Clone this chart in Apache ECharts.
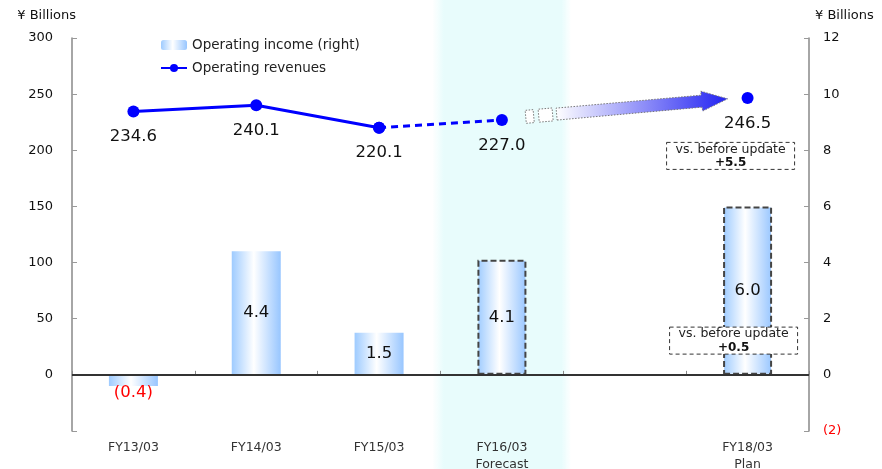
<!DOCTYPE html>
<html>
<head>
<meta charset="utf-8">
<script src="https://cdn.jsdelivr.net/npm/echarts@6/dist/echarts.min.js"></script>
<style>
  html, body { margin: 0; padding: 0; background: #fff; }
  #chart { width: 882px; height: 469px; }
</style>
</head>
<body>
<div id="chart"></div>
<script>
// Fiscal years on the category axis (the blank slot keeps FY17/03 empty)
const categories = ['FY13/03', 'FY14/03', 'FY15/03', 'FY16/03', '', 'FY18/03'];
const categoryNotes = ['', '', '', 'Forecast', '', 'Plan'];

// Operating revenues (¥ billions, left axis)
const operatingRevenues = [234.6, 240.1, 220.1, 227.0, null, 246.5];
// Operating income (¥ billions, right axis)
const operatingIncome = [-0.4, 4.4, 1.5, 4.1, null, 6.0];

// Axis ranges
const revenueAxis = { min: -50, max: 300, interval: 50 };
const incomeAxis = { min: -2, max: 12, interval: 2 };

// Revision notes shown beside the plan year
const revisionNotes = [
  { title: 'vs. before update', delta: '+5.5' },
  { title: 'vs. before update', delta: '+0.5' }
];

const FONT = '"DejaVu Sans", "Liberation Sans", sans-serif';
const TEXT = '#111';
const ACTUAL_END = 2, FORECAST_END = 3, PLAN = 5;

const barGradient = new echarts.graphic.LinearGradient(0, 0, 1, 0, [
  { offset: 0, color: '#9ECBFF' },
  { offset: 0.45, color: '#FFFFFF' },
  { offset: 1, color: '#98C6FF' }
]);

const fmtIncome = v => (v < 0 ? '(' + Math.abs(v).toFixed(1) + ')' : v.toFixed(1));

const incomeData = operatingIncome.map((v, i) => {
  if (v === null) return null;
  const item = { value: v };
  if (i >= FORECAST_END) {
    item.itemStyle = { borderColor: '#444', borderWidth: 2, borderType: [6, 3] };
  }
  if (v < 0) {
    item.label = { position: 'bottom', distance: 0, offset: [0, -2], color: '#FF0000' };
  }
  return item;
});

const pick = (arr, from, to) => arr.map((v, i) => (i >= from && i <= to ? v : null));

const lineLabel = {
  show: true, position: 'bottom', distance: 11,
  fontFamily: FONT, fontSize: 16.5, color: TEXT
};
const lineCommon = {
  type: 'line', yAxisIndex: 0, symbol: 'circle', symbolSize: 12,
  showSymbol: true, showAllSymbol: true, connectNulls: false,
  itemStyle: { color: '#0000FF' }, z: 4
};

const option = {
  animation: false,
  textStyle: { fontFamily: FONT },
  grid: { left: 72, right: 73, top: 38, bottom: 38, outerBoundsMode: 'none', containLabel: false },
  legend: {
    orient: 'vertical', left: 155, top: 33, itemGap: 9,
    itemWidth: 26, itemHeight: 10,
    textStyle: { fontFamily: FONT, fontSize: 13.5, color: '#222' },
    data: ['Operating income (right)', 'Operating revenues'],
    selectedMode: false
  },
  xAxis: {
    type: 'category', data: categories, boundaryGap: true,
    axisLine: { lineStyle: { color: '#999', width: 1.5 } },
    axisTick: { show: true, inside: true, length: 4, interval: 0, lineStyle: { color: '#888' } },
    axisLabel: {
      interval: 0, margin: 8, fontFamily: FONT, fontSize: 12.5, color: '#333', lineHeight: 17,
      formatter: (v, i) => (categoryNotes[i] ? v + '\n' + categoryNotes[i] : v)
    },
    splitLine: { show: false }
  },
  yAxis: [
    {
      type: 'value', position: 'left',
      min: revenueAxis.min, max: revenueAxis.max, interval: revenueAxis.interval,
      name: '¥ Billions', nameLocation: 'end', nameGap: 16,
      nameTextStyle: { fontFamily: FONT, fontSize: 13, color: TEXT, align: 'right', padding: [0, -4, 0, 0] },
      axisLine: { show: true, lineStyle: { color: '#888', width: 1.5 } },
      axisTick: { show: true, inside: true, length: 5, lineStyle: { color: '#999' } },
      axisLabel: { margin: 19, fontFamily: FONT, fontSize: 13, color: TEXT, formatter: v => (v < 0 ? '' : v) },
      splitLine: { show: false }
    },
    {
      type: 'value', position: 'right',
      min: incomeAxis.min, max: incomeAxis.max, interval: incomeAxis.interval,
      name: '¥ Billions', nameLocation: 'end', nameGap: 16,
      nameTextStyle: { fontFamily: FONT, fontSize: 13, color: TEXT, align: 'left', padding: [0, 0, 0, 6] },
      axisLine: { show: true, lineStyle: { color: '#888', width: 1.5 } },
      axisTick: { show: true, inside: true, length: 5, lineStyle: { color: '#999' } },
      axisLabel: {
        margin: 14, fontFamily: FONT, fontSize: 13, color: TEXT,
        formatter: v => (v < 0 ? '{neg|(' + Math.abs(v) + ')}' : String(v)),
        rich: { neg: { color: '#FF0000', fontFamily: FONT, fontSize: 13 } }
      },
      splitLine: { show: false }
    }
  ],
  series: [
    {
      name: 'Operating income (right)', type: 'bar', yAxisIndex: 1,
      barWidth: 49, data: incomeData,
      itemStyle: { color: barGradient },
      label: {
        show: true, position: 'inside', fontFamily: FONT, fontSize: 16.5, color: TEXT,
        formatter: p => fmtIncome(p.value)
      },
      markLine: {
        silent: true, symbol: ['none', 'none'], label: { show: false },
        lineStyle: { color: '#333', width: 2, type: 'solid' },
        data: [{ yAxis: 0 }]
      },
      z: 2
    },
    Object.assign({}, lineCommon, {
      name: 'Operating revenues',
      data: pick(operatingRevenues, 0, ACTUAL_END),
      lineStyle: { color: '#0000FF', width: 3 },
      label: lineLabel
    }),
    Object.assign({}, lineCommon, {
      name: 'Operating revenues forecast',
      data: pick(operatingRevenues, ACTUAL_END, FORECAST_END),
      lineStyle: { color: '#0000FF', width: 3, type: [7, 5] },
      label: Object.assign({}, lineLabel, {
        formatter: p => (p.dataIndex === FORECAST_END ? p.value.toFixed(1) : '')
      })
    }),
    Object.assign({}, lineCommon, {
      name: 'Operating revenues plan',
      data: pick(operatingRevenues, PLAN, PLAN),
      lineStyle: { width: 0 },
      label: lineLabel
    })
  ]
};

const chart = echarts.init(document.getElementById('chart'), null, { renderer: 'canvas' });
chart.setOption(option);

// Decorations placed from the axes' own scales
const toLeft = (i, v) => chart.convertToPixel({ seriesIndex: 1 }, [i, v]);
const toRight = (i, v) => chart.convertToPixel({ seriesIndex: 0 }, [i, v]);

const catW = toLeft(1, 0)[0] - toLeft(0, 0)[0];
const forecastX = toLeft(FORECAST_END, 0)[0];
const bandW = catW * 1.13;

// Arrow from the forecast year toward the plan year
const p1 = toLeft(FORECAST_END, operatingRevenues[FORECAST_END]);
const p2 = toLeft(PLAN, operatingRevenues[PLAN]);
const dx = p2[0] - p1[0], dy = p2[1] - p1[1];
const len = Math.hypot(dx, dy);
const ux = dx / len, uy = dy / len;
const nx = uy, ny = -ux;
const at = (s, t) => [p1[0] + s * ux + t * nx, p1[1] + s * uy + t * ny];
const lift = 1;
const seg = (s0, s1, h) => [at(s0, lift - h), at(s1, lift - h), at(s1, lift + h), at(s0, lift + h)];
const tipS = len - 20;
const arrowPts = [
  at(55, lift - 6), at(tipS - 26, lift - 6), at(tipS - 26, lift - 10),
  at(tipS, lift), at(tipS - 26, lift + 10), at(tipS - 26, lift + 6), at(55, lift + 6)
];
const dotted = { stroke: '#777', lineWidth: 1, lineDash: [1.5, 1.5] };

const noteBox = (cx, cy, note) => [
  {
    type: 'rect', z: 20, silent: true,
    shape: { x: cx - 64, y: cy - 13.5, width: 128, height: 27 },
    style: { fill: '#fff', stroke: '#333', lineWidth: 1, lineDash: [4, 3] }
  },
  {
    type: 'text', z: 21, silent: true, x: cx, y: cy - 6.5,
    style: { text: note.title, fontFamily: FONT, fontSize: 12.5, fill: '#222', align: 'center', verticalAlign: 'middle' }
  },
  {
    type: 'text', z: 21, silent: true, x: cx, y: cy + 7,
    style: { text: note.delta, fontFamily: FONT, fontSize: 12, fontWeight: 'bold', fill: '#111', align: 'center', verticalAlign: 'middle' }
  }
];

const planX = toRight(PLAN, 0)[0];

chart.setOption({
  graphic: [
    {
      type: 'rect', z: -10, silent: true,
      shape: { x: forecastX - bandW / 2, y: 0, width: bandW, height: chart.getHeight() },
      style: {
        fill: new echarts.graphic.LinearGradient(0, 0, 1, 0, [
          { offset: 0, color: 'rgba(232,252,252,0)' },
          { offset: 0.08, color: '#E8FCFC' },
          { offset: 0.93, color: '#E8FCFC' },
          { offset: 1, color: 'rgba(232,252,252,0)' }
        ])
      }
    },
    { type: 'polygon', z: 10, silent: true, shape: { points: seg(24, 32, 6.5) }, style: Object.assign({ fill: '#fff' }, dotted) },
    { type: 'polygon', z: 10, silent: true, shape: { points: seg(37, 51, 6.5) }, style: Object.assign({ fill: '#fff' }, dotted) },
    {
      type: 'polygon', z: 10, silent: true, shape: { points: arrowPts },
      style: Object.assign({
        fill: new echarts.graphic.LinearGradient(0, 0, 1, 0, [
          { offset: 0, color: '#FFFFFF' },
          { offset: 1, color: '#2222F2' }
        ])
      }, dotted)
    }
  ]
    .concat(noteBox(planX - 17, toRight(PLAN, 7.8)[1], revisionNotes[0]))
    .concat(noteBox(planX - 14, toRight(PLAN, 1.22)[1], revisionNotes[1]))
});
</script>
</body>
</html>
